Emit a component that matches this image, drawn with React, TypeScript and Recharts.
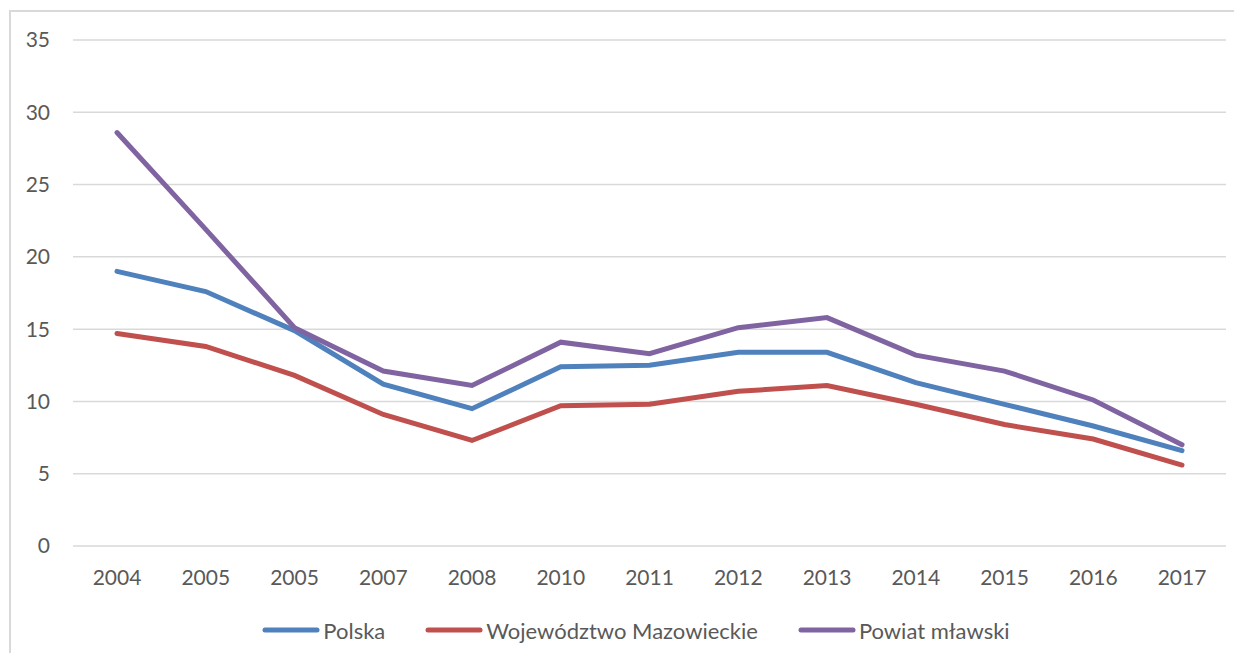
import { LineChart, Line, CartesianGrid, XAxis, YAxis, Legend } from 'recharts';

const years = ['2004', '2005', '2005', '2007', '2008', '2010', '2011', '2012', '2013', '2014', '2015', '2016', '2017'];
const polska = [19.0, 17.6, 14.9, 11.2, 9.5, 12.4, 12.5, 13.4, 13.4, 11.3, 9.8, 8.3, 6.6];
const mazowieckie = [14.7, 13.8, 11.8, 9.1, 7.3, 9.7, 9.8, 10.7, 11.1, 9.8, 8.4, 7.4, 5.6];
const mlawski = [28.6, 21.9, 15.1, 12.1, 11.1, 14.1, 13.3, 15.1, 15.8, 13.2, 12.1, 10.1, 7.0];
const yTicks = [0, 5, 10, 15, 20, 25, 30, 35];
const seriesOrder = ['polska', 'mazowieckie', 'mlawski'];

const data = years.map((year, i) => ({
    year,
    polska: polska[i],
    mazowieckie: mazowieckie[i],
    mlawski: mlawski[i],
}));

const font = 'Lato, "Open Sans", sans-serif';
const textColor = '#595959';

const CustomLegend = (props: any) => {
    const items = [...(props.payload || [])].sort(
        (a: any, b: any) => seriesOrder.indexOf(a.dataKey) - seriesOrder.indexOf(b.dataKey)
    );
    return (
        <div style={{ display: 'flex', justifyContent: 'center', alignItems: 'center', height: 30, paddingLeft: 38, fontFamily: font, fontSize: 22, color: textColor }}>
            {items.map((entry: any, i: number) => (
                <div key={i} style={{ display: 'flex', alignItems: 'center', marginRight: i < items.length - 1 ? 40 : 0 }}>
                    <svg width={58} height={10} style={{ marginRight: 3 }}>
                        <line x1={3} y1={5} x2={55} y2={5} stroke={entry.color} strokeWidth={5} strokeLinecap='round' />
                    </svg>
                    <span>{entry.value}</span>
                </div>
            ))}
        </div>
    );
};

const App = () => {
    return (
        <div style={{ position: 'relative', width: 1234, height: 645, overflow: 'hidden' }}>
            <div style={{ position: 'absolute', left: 1, top: 2, width: 1240, height: 700, borderTop: '2px solid #d9d9d9', borderLeft: '2px solid #d9d9d9' }} />
            <LineChart
                width={1234}
                height={645}
                data={data}
                margin={{ top: 32, right: 16, left: 0, bottom: 37 }}
                style={{ fontFamily: font }}
            >
                <CartesianGrid vertical={false} stroke='#d9d9d9' strokeWidth={1.5} />
                <XAxis
                    dataKey='year'
                    height={40}
                    padding={{ left: 44, right: 44 }}
                    axisLine={false}
                    tickLine={false}
                    tickSize={0}
                    tickMargin={24}
                    tick={{ fill: textColor, fontSize: 21 }}
                    interval={0}
                />
                <YAxis
                    width={65}
                    domain={[0, 35]}
                    ticks={yTicks}
                    axisLine={false}
                    tickLine={false}
                    tickSize={0}
                    tickMargin={23}
                    tick={{ fill: textColor, fontSize: 21 }}
                />
                <Legend
                    verticalAlign='bottom'
                    content={<CustomLegend />}
                    wrapperStyle={{ bottom: 8 }}
                    itemSorter={(item: any) => seriesOrder.indexOf(item.dataKey)}
                />
                <Line type='linear' dataKey='polska' name='Polska' stroke='#4F81BD' strokeWidth={5} strokeLinecap='round' dot={false} isAnimationActive={false} />
                <Line type='linear' dataKey='mazowieckie' name='Województwo Mazowieckie' stroke='#C0504D' strokeWidth={5} strokeLinecap='round' dot={false} isAnimationActive={false} />
                <Line type='linear' dataKey='mlawski' name='Powiat mławski' stroke='#8064A2' strokeWidth={5} strokeLinecap='round' dot={false} isAnimationActive={false} />
            </LineChart>
        </div>
    );
};

export default App;
